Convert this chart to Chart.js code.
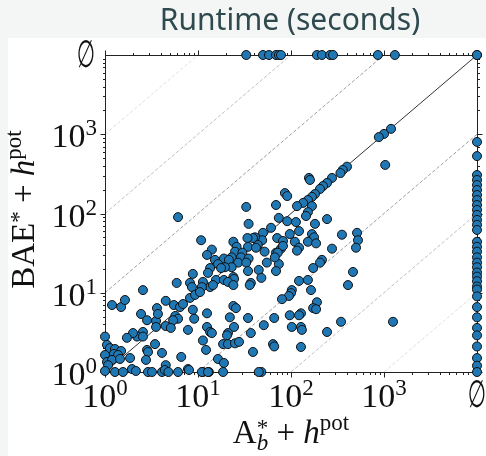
<!DOCTYPE html>
<html>
<head>
<meta charset="utf-8">
<script src="https://cdn.jsdelivr.net/npm/chart.js@4.4.1/dist/chart.umd.min.js"></script>
<style>
html, body { margin:0; padding:0; width:486px; height:456px; overflow:hidden; background:#f4f5f5; }
canvas { display:block; }
</style>
</head>
<body>
<canvas id="runtime" width="486" height="456"></canvas>
<script>
// runtimes in seconds, instances solved by both (x = A*_b + h^pot, y = BAE* + h^pot)
var astarTime = [
  6.1,33,35,69,74,61,1030,1190,1000,880,
  400,360,340,276,244,221,205,181,168,152,
  135,156,160,86,91,116,168,152,145,244,
  181,91,113,
  122,97,168,177,353,513,525,500,50,49,
  71,82,110,152,186,78,122,116,276,52,
  69,55,74,215,205,173,69,464,122,152,
  410,164,102,100,95,80,190,173,186,97,
  66,128,122,345,1250,51,102,128,131,244,
  64,66,128,48,
  41,39,34,44,34.5,42,82,72,67,24,
  26,25,30,23,29,27,35,33,45,48,
  34.5,14.1,12.5,15.2,19,21.5,23,16.4,19.5,17.7,
  13.5,12.8,24,15.6,19,24.4,21,37,10.8,13.5,
  14.5,11.3,11,24,36,
  12.5,24,25.6,22,34.5,12.5,13.5,14.1,24.4,21,
  20.5,37,11.3,18.6,21,25,27.6,12.2,39,16.4,
  19,11.3,13.1,18.6,45,
  8.8,5.9,8.2,2.56,8.6,1.19,1.49,1.64,2.44,2.83,
  3.54,3.62,3.71,3.54,4.5,5.5,6.4,6.9,8.2,9.3,
  10.5,5.7,6.1,5.4,4.5,5.1,9.1,8.8,7.8,2.56,
  2.21,2.56,2.0,1.72,3.45,2.83,2.9,4.1,2.76,4.5,
  6.6,7.8,1.0,1.05,1.13,1.28,1.49,1.25,1.38,1.0,
  1.05,1.19,1.08,1.45,1.86,1.0,1.28,1.56,1.95,2.15,
  2.9,3.2,4.1,4.4,4.8,6.1,8.0,11,12.8
];
var baeTime = [
  90,121,74,128,88,66,410,1170,1010,920,
  390,354,324,281,243,222,204,176,162,148,
  136,281,265,181,166,124,124,104,93,85,
  74,80,78,
  60,55,55,50,54,57,46,37,57,46,
  49,45,44,44,42,36,37,34,36,33,
  32,24,23,26,24,20.5,18.8,18.3,14.1,14.5,
  12.5,10.8,10.8,9.9,9.1,8.3,7.6,6.4,6.2,5.2,
  4.8,5.5,5.2,4.3,4.3,3.9,3.7,3.7,3.4,3.2,
  2.25,2.1,2.07,1,
  50,49,49,40,38,37,39,32,28,44,
  38,33,32,28,28,24,27,24,19.4,15.4,
  18.8,35,30,26,27,26,21,23,21,20.5,
  20.5,17.8,15.8,14.5,14.5,14.9,13.7,13.3,46,11.8,
  12.5,13.7,11.8,12.5,12.5,
  5.5,6.8,6.4,4.9,4.8,3.7,3.2,3.1,3.7,3.1,
  2.9,3.1,2.5,2.25,2.25,2.3,2.4,1.9,1.79,1.46,
  1.3,1,1,1,1,
  17.3,13.3,13.3,10.8,11.8,7.0,6.6,8.1,5.4,4.5,
  4.4,6.4,5.4,3.7,7.9,7.0,6.6,7.2,8.6,9.4,
  10.2,5.1,4.7,4.5,3.8,3.6,4.7,6.1,3.4,3.2,
  2.8,2.8,3.1,2.7,2.25,1.9,1.79,1.74,1.42,1.22,
  1.55,1.09,2.8,2.2,2.0,1.95,1.84,1.69,1.64,1.64,
  1.34,1.42,1.22,1.46,1.5,1.03,1,1,1.09,1.03,
  1,1,1,1.06,1,1,1.06,1,1
];
// BAE* unsolved -> A*_b runtime
var astarOnly = [33,50,58,69,74,78,190,215,263,283,860,1310];
// A*_b unsolved -> BAE* runtime
var baeOnly = [800,530,306,265,229,198,171,148,128,111,96,83,72,62,
  44,38,33,28,24,21,18,16,14,12,11,9,6.6,4.9,3.6,2.9,2.1,1.5,1.2,1.0];
var neitherCount = 2;

var tickExp = [0,1,2,3];
var diagOffsets = [-3,-2,-1,1,2,3];
var EMPTY = 1e4; // axis value used for the "unsolved" row / column

var MF = "'Liberation Serif','DejaVu Serif',serif";
var fnt = function(size, italic){ return (italic ? 'italic ' : '') + size + 'px ' + MF; };

// draw a list of text pieces (sub/superscripts) starting at x,y
var drawRich = function(ctx, parts, x, y, align){
    var pos = [], cur = 0, grp = 0;
    for (var i = 0; i < parts.length; i++) {
        ctx.font = parts[i].font;
        var w = ctx.measureText(parts[i].t).width;
        pos.push(cur);
        if (parts[i].keep) { grp = Math.max(grp, w); }
        else { cur += Math.max(grp, w); grp = 0; }
    }
    var x0 = align == 'center' ? x - cur/2 : (align == 'right' ? x - cur : x);
    ctx.textAlign = 'left';
    ctx.textBaseline = 'alphabetic';
    for (var i = 0; i < parts.length; i++) {
        ctx.font = parts[i].font;
        ctx.fillText(parts[i].t, x0 + pos[i], y + (parts[i].dy || 0));
    }
};

var pow10 = function(k){
    return [{t:'10', font:fnt(34)}, {t:String(k), font:fnt(23), dy:-12}];
};

var drawEmpty = function(ctx, cx, cy){
    ctx.save();
    ctx.translate(cx, cy);
    ctx.scale(0.75, 1.35);
    ctx.font = "28px 'DejaVu Sans'";
    ctx.textAlign = 'center';
    ctx.textBaseline = 'middle';
    ctx.fillText('\u2205', 0, 0);
    ctx.restore();
};

var frame = {
    id: 'frame',
    beforeDraw: function(chart){
        var ctx = chart.ctx;
        ctx.save();
        ctx.fillStyle = '#f4f5f5';
        ctx.fillRect(0, 0, chart.width, chart.height);
        ctx.fillStyle = '#ffffff';
        ctx.fillRect(8, 38, chart.width - 8, chart.height - 38);
        ctx.fillStyle = '#2f4a4e';
        ctx.font = "30px 'Noto Sans'";
        ctx.textAlign = 'center';
        ctx.textBaseline = 'alphabetic';
        ctx.fillText('Runtime (seconds)', 290, 30);
        ctx.restore();
    },
    beforeDatasetsDraw: function(chart){
        var ctx = chart.ctx, a = chart.chartArea;
        var xs = chart.scales.x, ys = chart.scales.y;
        var L = Math.round(a.left) + 0.5, R = Math.round(a.right) + 0.5;
        var T = Math.round(a.top) + 0.5, B = Math.round(a.bottom) + 0.5;
        ctx.save();
        ctx.strokeStyle = '#222';
        ctx.lineWidth = 1;
        ctx.strokeRect(L, T, R - L, B - T);
        ctx.beginPath();
        for (var d = 0; d < 4; d++) {
            for (var m = 1; m < 10; m++) {
                var v = m * Math.pow(10, d);
                var len = m == 1 ? 5 : 2.5;
                var px = Math.round(xs.getPixelForValue(v)) + 0.5;
                var py = Math.round(ys.getPixelForValue(v)) + 0.5;
                ctx.moveTo(px, B); ctx.lineTo(px, B + len);
                ctx.moveTo(px, T); ctx.lineTo(px, T - len);
                ctx.moveTo(L, py); ctx.lineTo(L - len, py);
                ctx.moveTo(R, py); ctx.lineTo(R + len, py);
            }
        }
        ctx.stroke();
        ctx.restore();
    },
    afterDraw: function(chart){
        var ctx = chart.ctx, a = chart.chartArea;
        var xs = chart.scales.x, ys = chart.scales.y;
        ctx.save();
        ctx.fillStyle = '#111';
        tickExp.forEach(function(k){
            var v = Math.pow(10, k);
            drawRich(ctx, pow10(k), xs.getPixelForValue(v), a.bottom + 35, 'center');
            drawRich(ctx, pow10(k), a.left - 8, ys.getPixelForValue(v) + 13, 'right');
        });
        drawEmpty(ctx, xs.getPixelForValue(EMPTY), a.bottom + 25);
        drawEmpty(ctx, a.left - 19, ys.getPixelForValue(EMPTY) + 2);

        drawRich(ctx, [
            {t:'A', font:fnt(33)},
            {t:'b', font:fnt(23, true), dy:7, keep:true},
            {t:'*', font:fnt(23), dy:-8},
            {t:' + ', font:fnt(33)},
            {t:'h', font:fnt(33, true)},
            {t:'pot', font:fnt(23), dy:-13}
        ], (a.left + a.right)/2, 443, 'center');

        ctx.translate(34, (a.top + a.bottom)/2 - 4);
        ctx.rotate(-Math.PI/2);
        drawRich(ctx, [
            {t:'BAE', font:fnt(33)},
            {t:'*', font:fnt(23), dy:-8},
            {t:' + ', font:fnt(33)},
            {t:'h', font:fnt(33, true)},
            {t:'pot', font:fnt(23), dy:-13}
        ], 0, 0, 'center');
        ctx.restore();
    }
};

var points = [];
for (var i = 0; i < astarTime.length; i++) {
    points.push({x: astarTime[i], y: baeTime[i]});
}
astarOnly.forEach(function(v){ points.push({x: v, y: EMPTY}); });
baeOnly.forEach(function(v){ points.push({x: EMPTY, y: v}); });
for (var i = 0; i < neitherCount; i++) points.push({x: EMPTY, y: EMPTY});

var datasets = [{
    type: 'scatter',
    data: points,
    backgroundColor: '#1f77b4',
    borderColor: '#111',
    borderWidth: 1,
    pointRadius: 4.5,
    clip: false,
    order: 0
}, {
    type: 'line',
    data: [{x: 1, y: 1}, {x: EMPTY, y: EMPTY}],
    borderColor: '#333',
    borderWidth: 1,
    pointRadius: 0,
    order: 1
}];
diagOffsets.forEach(function(k){
    var f = Math.pow(10, k);
    var alpha = [0, 0.38, 0.25, 0.13][Math.abs(k)];
    datasets.push({
        type: 'line',
        data: [{x: 1/Math.min(f, 1), y: Math.max(f, 1)}, {x: EMPTY / Math.max(f, 1), y: EMPTY * Math.min(f, 1)}],
        borderColor: 'rgba(0,0,0,' + alpha + ')',
        borderWidth: 1,
        borderDash: [3.5, 2],
        pointRadius: 0,
        order: 2
    });
});

new Chart(document.getElementById('runtime'), {
    data: {datasets: datasets},
    options: {
        responsive: false,
        animation: false,
        devicePixelRatio: 1,
        layout: {padding: {left: 105, top: 55, right: 9, bottom: 84}},
        plugins: {legend: {display: false}, tooltip: {enabled: false}},
        scales: {
            x: {type: 'logarithmic', min: 1, max: EMPTY, display: false},
            y: {type: 'logarithmic', min: 1, max: EMPTY, display: false}
        }
    },
    plugins: [frame]
});
</script>
</body>
</html>
